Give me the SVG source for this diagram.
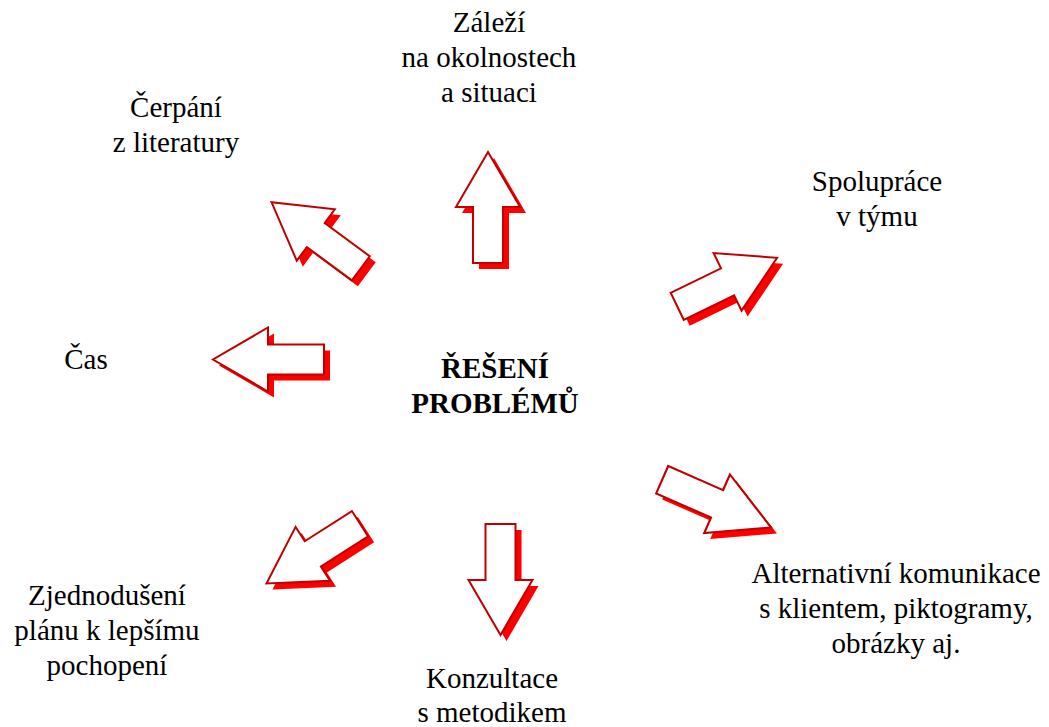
<svg xmlns="http://www.w3.org/2000/svg" xmlns:xlink="http://www.w3.org/1999/xlink" width="1049" height="727" viewBox="0 0 1049 727">
<defs>
<style>
.lbl{font-family:'Liberation Serif','Times New Roman','DejaVu Serif',serif;font-size:29px;font-weight:normal;fill:#000;text-anchor:middle}
.ctr{font-weight:bold}
.sh{fill:#FF0000;stroke:none}
.ol{fill:#FFFFFF;stroke:#C00000;stroke-width:2;stroke-linejoin:miter}
</style>
<polygon id="arr" points="0,-15 56,-15 56,-32 111,0 56,32 56,15 0,15"/>
</defs>
<rect width="1049" height="727" fill="#FFFFFF"/>
<g id="connectors">
<g id="arrow-up">
<use xlink:href="#arr" class="sh" transform="translate(494,269) rotate(-90)"/>
<use xlink:href="#arr" class="ol" transform="translate(488,263) rotate(-90)"/>
</g>
<g id="arrow-down">
<use xlink:href="#arr" class="sh" transform="translate(506.5,530) rotate(90)"/>
<use xlink:href="#arr" class="ol" transform="translate(500.5,524) rotate(90)"/>
</g>
<g id="arrow-left">
<use xlink:href="#arr" class="sh" transform="translate(330,365.5) rotate(180)"/>
<use xlink:href="#arr" class="ol" transform="translate(324,359.5) rotate(180)"/>
</g>
<g id="arrow-upleft">
<use xlink:href="#arr" class="sh" transform="translate(366.8,274.3) rotate(-143.5)"/>
<use xlink:href="#arr" class="ol" transform="translate(360.8,268.3) rotate(-143.5)"/>
</g>
<g id="arrow-upright">
<use xlink:href="#arr" class="sh" transform="translate(683.2,312.3) rotate(-25.9)"/>
<use xlink:href="#arr" class="ol" transform="translate(677.2,306.3) rotate(-25.9)"/>
</g>
<g id="arrow-downright">
<use xlink:href="#arr" class="sh" transform="translate(668.2,485.7) rotate(23.7) scale(1.07,1)"/>
<use xlink:href="#arr" class="ol" transform="translate(662.2,479.7) rotate(23.7) scale(1.07,1)"/>
</g>
<g id="arrow-downleft">
<use xlink:href="#arr" class="sh" transform="translate(366,529.7) rotate(147.4)"/>
<use xlink:href="#arr" class="ol" transform="translate(360,523.7) rotate(147.4)"/>
</g>
</g>
<g id="node-center">
<text class="lbl ctr" x="495" y="378">ŘEŠENÍ</text>
<text class="lbl ctr" x="495" y="413">PROBLÉMŮ</text>
</g>
<g id="node-top">
<text class="lbl" x="489" y="32">Záleží</text>
<text class="lbl" x="489" y="67">na okolnostech</text>
<text class="lbl" x="489" y="102">a situaci</text>
</g>
<g id="node-topleft">
<text class="lbl" x="176" y="117">Čerpání</text>
<text class="lbl" x="176" y="152">z literatury</text>
</g>
<g id="node-topright">
<text class="lbl" x="877" y="191">Spolupráce</text>
<text class="lbl" x="877" y="226">v týmu</text>
</g>
<g id="node-left">
<text class="lbl" x="86" y="369">Čas</text>
</g>
<g id="node-bottomright">
<text class="lbl" x="896" y="583">Alternativní komunikace</text>
<text class="lbl" x="896" y="618">s klientem, piktogramy,</text>
<text class="lbl" x="896" y="653">obrázky aj.</text>
</g>
<g id="node-bottom">
<text class="lbl" x="492" y="688">Konzultace</text>
<text class="lbl" x="492" y="722">s metodikem</text>
</g>
<g id="node-bottomleft">
<text class="lbl" x="107" y="605">Zjednodušení</text>
<text class="lbl" x="107" y="640">plánu k lepšímu</text>
<text class="lbl" x="107" y="675">pochopení</text>
</g>
</svg>
